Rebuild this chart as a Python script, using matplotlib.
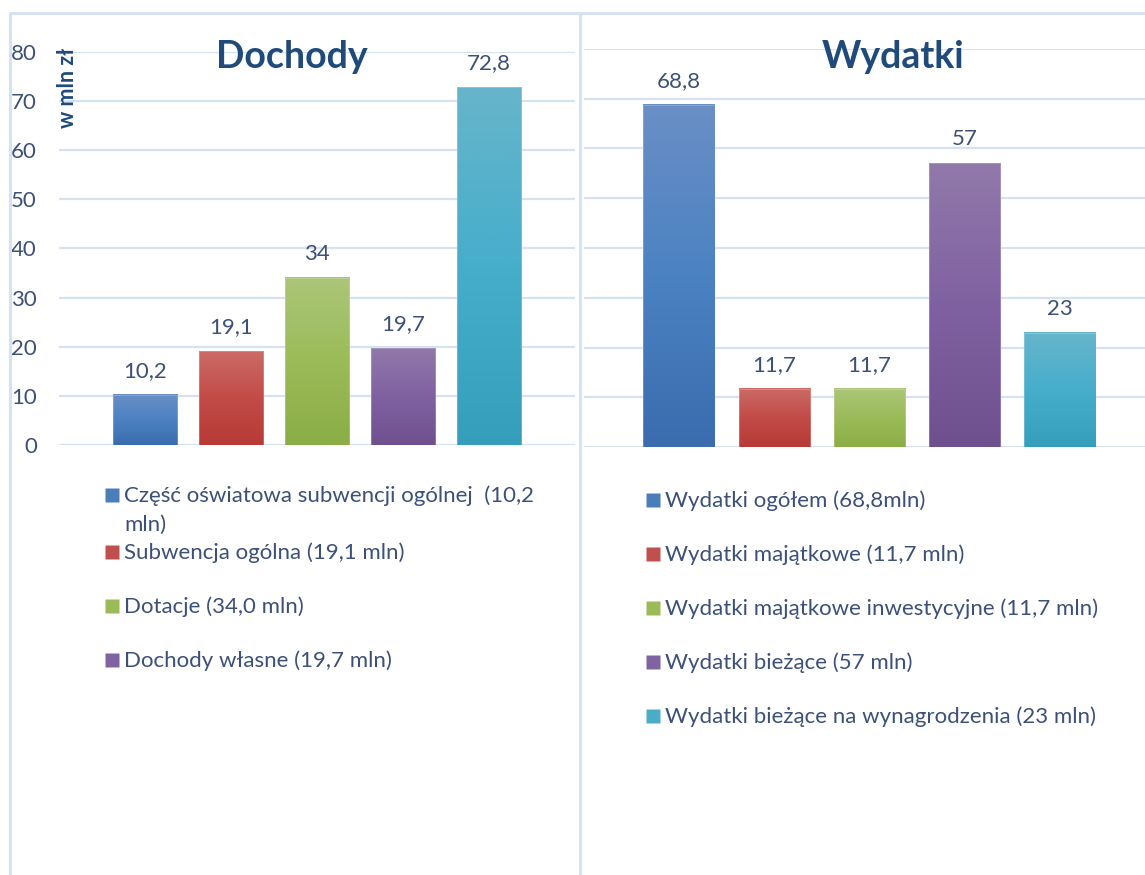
import numpy as np
import matplotlib
import matplotlib.pyplot as plt
from matplotlib.colors import LinearSegmentedColormap
from matplotlib.lines import Line2D

matplotlib.use("agg")

# data
income_values = [10.2, 19.1, 34.0, 19.7, 72.8]
income_labels = ["10,2", "19,1", "34", "19,7", "72,8"]
income_legend = [
    "Część oświatowa subwencji ogólnej  (10,2\nmln)",
    "Subwencja ogólna (19,1 mln)",
    "Dotacje (34,0 mln)",
    "Dochody własne (19,7 mln)",
]

spend_values = [68.8, 11.7, 11.7, 57.0, 23.0]
spend_labels = ["68,8", "11,7", "11,7", "57", "23"]
spend_legend = [
    "Wydatki ogółem (68,8mln)",
    "Wydatki majątkowe (11,7 mln)",
    "Wydatki majątkowe inwestycyjne (11,7 mln)",
    "Wydatki bieżące (57 mln)",
    "Wydatki bieżące na wynagrodzenia (23 mln)",
]

y_ticks = [0, 10, 20, 30, 40, 50, 60, 70, 80]

# (top, middle, bottom) gradient stops per series
bar_colors = [
    ("#6a8fc6", "#4b82c2", "#3a6cae"),
    ("#cc6b67", "#c24b47", "#b73a37"),
    ("#abc678", "#9bbb59", "#8bad44"),
    ("#9179aa", "#7f61a1", "#6f508f"),
    ("#67b5cb", "#46aecb", "#359fbb"),
]
legend_colors = ["#4a7ebb", "#c0504d", "#9bbb59", "#8064a2", "#4bacc6"]

TEXT = "#3c5078"
TITLE = "#1f4a7a"
GRID = "#d6e2f2"
FONT = "Lato"

W, H = 1145, 875
fig = plt.figure(figsize=(W / 100, H / 100), dpi=100)


def px_axes(x0, y_top, x1, y_bot):
    return fig.add_axes([x0 / W, 1 - y_bot / H, (x1 - x0) / W, (y_bot - y_top) / H])


def draw_panel(ax, values, labels, show_ticks):
    x = np.arange(len(values))
    bars = ax.bar(x, values, width=0.75, facecolor="none",
                  edgecolor=(1, 1, 1, 0.25), linewidth=0.6, zorder=3)
    for b, (top, mid, bot) in zip(bars, bar_colors):
        cmap = LinearSegmentedColormap.from_list("g", [bot, mid, top])
        grad = np.linspace(0, 1, 256).reshape(-1, 1)
        ax.imshow(grad, extent=[b.get_x(), b.get_x() + b.get_width(), 0, b.get_height()],
                  origin="lower", cmap=cmap, aspect="auto", zorder=2)
    for b, lab in zip(bars, labels):
        ax.annotate(lab, (b.get_x() + b.get_width() / 2, b.get_height()),
                    xytext=(0, 13), textcoords="offset points", ha="center",
                    va="baseline", fontsize=16, color=TEXT, family=FONT)
    ax.set_xlim(-1, 5)
    ax.set_ylim(0, 80)
    ax.set_yticks(y_ticks)
    ax.grid(axis="y", color=GRID, lw=1.6, zorder=0)
    ax.set_axisbelow(True)
    ax.set_xticks([])
    for s in ax.spines.values():
        s.set_visible(False)
    ax.tick_params(axis="y", length=0, pad=16, labelsize=16, labelcolor=TEXT)
    if show_ticks:
        for t in ax.get_yticklabels():
            t.set_family(FONT)
    else:
        ax.set_yticklabels([])


ax1 = px_axes(59, 52, 575, 445)
draw_panel(ax1, income_values, income_labels, True)
ax2 = px_axes(584, 49, 1155, 447)
draw_panel(ax2, spend_values, spend_labels, False)

# overlay in pixel coordinates for frames, titles, legends
ov = fig.add_axes([0, 0, 1, 1])
ov.set_xlim(0, W)
ov.set_ylim(H, 0)
ov.axis("off")

frame_kw = dict(color="#d4e2f4", lw=2.2, solid_capstyle="butt")
ov.add_line(Line2D([9, W], [13, 13], **frame_kw))
ov.add_line(Line2D([9.5, 9.5], [13, H], **frame_kw))
ov.add_line(Line2D([580, 580], [13, H], **frame_kw))

ov.text(292, 68, "Dochody", ha="center", va="baseline", fontsize=27,
        fontweight="bold", color=TITLE, family=FONT)
ov.text(893, 68, "Wydatki", ha="center", va="baseline", fontsize=27,
        fontweight="bold", color=TITLE, family=FONT)
ov.text(78, 88, "w mln zł", rotation=90, ha="right", va="center", fontsize=15.5,
        fontweight="bold", color=TITLE, family=FONT)


def draw_legend(entries, x_sq, y0, step, wrap_gap):
    yb = y0
    for i, lab in enumerate(entries):
        ov.plot(x_sq + 7, yb - 7, marker="s", ms=10, color=legend_colors[i],
                mec="none", ls="none")
        lines = lab.split("\n")
        for j, line in enumerate(lines):
            ov.text(x_sq + 19, yb + j * wrap_gap, line, ha="left", va="baseline",
                    fontsize=16, color=TEXT, family=FONT)
        yb += step + (len(lines) - 1) * 0.05 * step


draw_legend(income_legend, 105, 502, 54, 29)
draw_legend(spend_legend, 646, 507, 54, 29)

fig.savefig("out.png", dpi=100, facecolor="white")
